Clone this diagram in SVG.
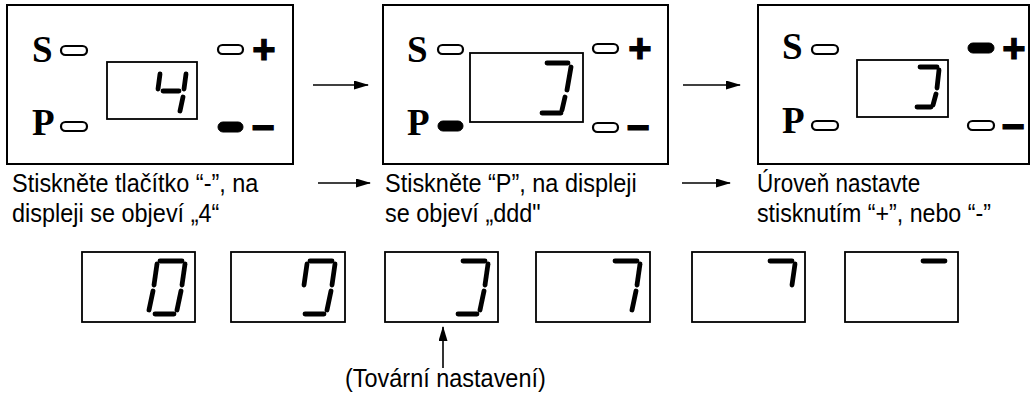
<svg xmlns="http://www.w3.org/2000/svg" xmlns:xlink="http://www.w3.org/1999/xlink" width="1033" height="408" viewBox="0 0 1033 408">
<style>
.panel{fill:none;stroke:#000;stroke-width:2}
.disp{fill:none;stroke:#000;stroke-width:1.8}
.led{fill:none;stroke:#000;stroke-width:2.2}
.ledon{fill:#000;stroke:#000;stroke-width:1}
.seg{fill:none;stroke:#000;stroke-width:4.8;stroke-linecap:round}
.lbl{font-family:"Liberation Serif",serif;font-weight:bold;font-size:37px;fill:#000}
.sign{font-family:"Liberation Sans",sans-serif;font-weight:bold;font-size:40px;fill:#000;stroke:#000;stroke-width:1.2;text-anchor:middle}
.txt{font-family:"Liberation Sans",sans-serif;font-size:25.5px;fill:#000}
.conn{stroke:#000;stroke-width:1.6;fill:none}
</style>
<defs>
<marker id="ah" markerUnits="userSpaceOnUse" markerWidth="15" markerHeight="10" refX="14" refY="4.5" orient="auto">
<path d="M0,0 L15,4.5 L0,9 z" fill="#000"/>
</marker>
<path id="sa" class="seg" d="M-35,9 H-13"/>
<path id="sb" class="seg" d="M-10,12 L-13,33"/>
<path id="sc" class="seg" d="M-14,39 L-18,58"/>
<path id="sd" class="seg" d="M-40,62 H-21"/>
<path id="se" class="seg" d="M-42,39 L-46,58"/>
<path id="sf" class="seg" d="M-38,12 L-41,33"/>
</defs>
<rect width="1033" height="408" fill="#fff"/>

<g id="panel1">
<rect class="panel" x="7" y="5" width="286" height="159"/>
<text class="lbl" x="32" y="62">S</text>
<text class="lbl" x="32" y="135">P</text>
<rect class="led" x="61" y="46" width="26" height="9" rx="4.5"/>
<rect class="led" x="61" y="122" width="26" height="9" rx="4.5"/>
<rect class="led" x="218" y="45" width="25" height="9" rx="4.5"/>
<rect class="ledon" x="218" y="122" width="25" height="10" rx="5"/>
<text class="sign" x="264" y="63">+</text>
<text class="sign" x="263" y="141">−</text>
<rect class="disp" x="107" y="62" width="90" height="57"/>
<path class="seg" d="M160,74 L158,89 M163,91 H179 M186,74 L184,89 M183,97 L180,111"/>
</g>

<g id="panel2">
<rect class="panel" x="383" y="5" width="285" height="159"/>
<text class="lbl" x="407" y="62">S</text>
<text class="lbl" x="407" y="135">P</text>
<rect class="led" x="438" y="45" width="25" height="9" rx="4.5"/>
<rect class="ledon" x="438" y="121" width="25" height="10" rx="5"/>
<rect class="led" x="593" y="44" width="25" height="9" rx="4.5"/>
<rect class="led" x="593" y="123" width="25" height="9" rx="4.5"/>
<text class="sign" x="640" y="62">+</text>
<text class="sign" x="638" y="141">−</text>
<rect class="disp" x="470" y="53" width="113" height="69"/>
<path class="seg" d="M547,63 H568 M571,67 L567,90 M565,97 L562,110 M542,113 H561"/>
</g>

<g id="panel3">
<rect class="panel" x="758" y="5" width="271" height="159"/>
<text class="lbl" x="782" y="59">S</text>
<text class="lbl" x="782" y="133">P</text>
<rect class="led" x="812" y="45" width="26" height="9" rx="4.5"/>
<rect class="led" x="812" y="121" width="26" height="9" rx="4.5"/>
<rect class="ledon" x="968" y="43" width="26" height="10" rx="5"/>
<rect class="led" x="968" y="121" width="26" height="9" rx="4.5"/>
<text class="sign" x="1014" y="62">+</text>
<text class="sign" x="1013" y="140">−</text>
<rect class="disp" x="857" y="60" width="91" height="57"/>
<path class="seg" d="M920,67 H937 M939,70 L937,88 M936,94 L933,105 M917,107 H931"/>
</g>

<g id="step-texts">
<text class="txt" transform="translate(12,192) scale(0.92,1)">Stiskněte tlačítko “-”, na</text>
<text class="txt" transform="translate(12,222) scale(0.92,1)">displeji se objeví „4“</text>
<text class="txt" transform="translate(385,192) scale(0.92,1)">Stiskněte “P”, na displeji</text>
<text class="txt" transform="translate(385,222) scale(0.92,1)">se objeví „ddd"</text>
<text class="txt" transform="translate(757,192) scale(0.88,1)">Úroveň nastavte</text>
<text class="txt" transform="translate(757,222) scale(0.91,1)">stisknutím “+”, nebo “-”</text>
</g>

<g id="disp1"><rect class="disp" x="82" y="252" width="113" height="70"/>
<g transform="translate(195,252)"><use xlink:href="#sa"/><use xlink:href="#sb"/><use xlink:href="#sc"/><use xlink:href="#sd"/><use xlink:href="#se"/><use xlink:href="#sf"/></g></g>
<g id="disp2"><rect class="disp" x="231" y="252" width="114" height="70"/>
<g transform="translate(345,252)"><use xlink:href="#sa"/><use xlink:href="#sb"/><use xlink:href="#sc"/><use xlink:href="#sd"/><use xlink:href="#sf"/></g></g>
<g id="disp3"><rect class="disp" x="385" y="252" width="113" height="70"/>
<g transform="translate(498,252)"><use xlink:href="#sa"/><use xlink:href="#sb"/><use xlink:href="#sc"/><use xlink:href="#sd"/></g></g>
<g id="disp4"><rect class="disp" x="536" y="252" width="114" height="70"/>
<g transform="translate(650,252)"><use xlink:href="#sa"/><use xlink:href="#sb"/><use xlink:href="#sc"/></g></g>
<g id="disp5"><rect class="disp" x="692" y="252" width="113" height="70"/>
<g transform="translate(805,252)"><use xlink:href="#sa"/><use xlink:href="#sb"/></g></g>
<g id="disp6"><rect class="disp" x="845" y="252" width="113" height="70"/>
<g transform="translate(958,252)"><use xlink:href="#sa"/></g></g>

<g id="factory-label">
<text class="txt" transform="translate(345,387) scale(0.92,1)">(Tovární nastavení)</text>
</g>

<g id="connectors">
<line class="conn" x1="313" y1="85" x2="368" y2="85" marker-end="url(#ah)"/>
<line class="conn" x1="683" y1="85" x2="740" y2="85" marker-end="url(#ah)"/>
<line class="conn" x1="318" y1="183" x2="370" y2="183" marker-end="url(#ah)"/>
<line class="conn" x1="682" y1="183" x2="730" y2="183" marker-end="url(#ah)"/>
<line class="conn" x1="443" y1="368" x2="443" y2="327" marker-end="url(#ah)"/>
</g>
</svg>
